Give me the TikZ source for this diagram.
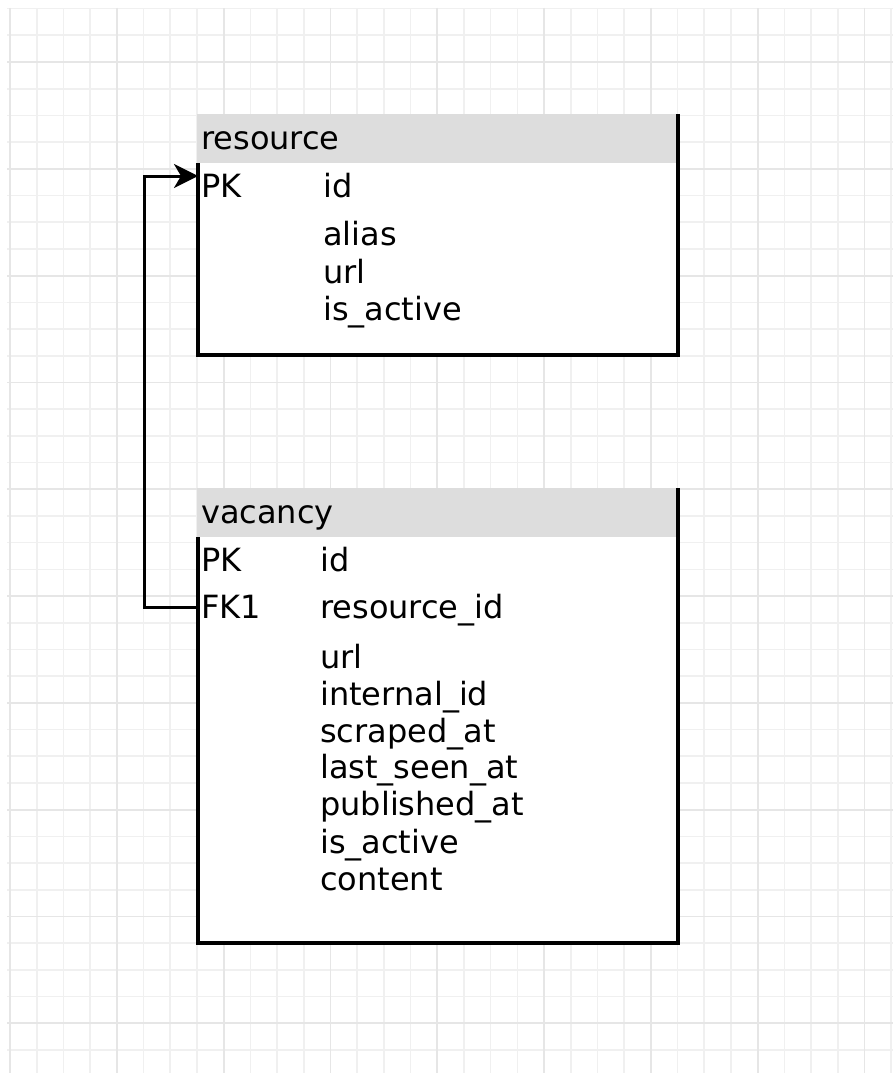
\documentclass[tikz,border=0pt]{standalone}
\usepackage{fontspec}
\setmainfont{DejaVu Sans}
\usepackage{tikz}
\usetikzlibrary{arrows.meta}
\definecolor{ERHead}{HTML}{DDDDDD}
\definecolor{ERGridMinor}{HTML}{F0F0F0}
\definecolor{ERGridMajor}{HTML}{E6E6E6}

\begin{document}
\begin{tikzpicture}[x=1pt,y=-1pt,
    lab/.style={anchor=base west,inner sep=0pt,font=\fontsize{32}{38}\selectfont},
    key/.style={lab,inner xsep=3pt},
    tbl/.style={line width=3.2pt},
    fk/.style={line width=3pt,-{Stealth[length=24pt,width=24pt,inset=7pt]}}]
    \useasboundingbox (0,0) rectangle (893,1073);
    \begin{scope}
      \clip (7,8) rectangle (893,1073);
      \foreach \i in {0,...,33}
        \draw[ERGridMinor,line width=1.6pt] ({10+26.7*\i},8) -- ({10+26.7*\i},1073);
      \foreach \i in {0,...,39}
        \draw[ERGridMinor,line width=1.6pt] (7,{8.6+26.7*\i}) -- (893,{8.6+26.7*\i});
      \foreach \i in {0,4,...,32}
        \draw[ERGridMajor,line width=1.8pt] ({10+26.7*\i},8) -- ({10+26.7*\i},1073);
      \foreach \i in {2,6,...,38}
        \draw[ERGridMajor,line width=1.8pt] (7,{8.6+26.7*\i}) -- (893,{8.6+26.7*\i});
    \end{scope}
    \fill[white] (197,114) rectangle (678,355);
    \fill[ERHead] (197,114) rectangle (678,163);
    \draw[tbl] (198,163) -- (198,355) -- (678,355) -- (678,114);
    \node[lab] (res-title) at (201,149) {resource};
    \node[key] (res-pk) at (198,197) {PK};
    \node[lab] (res-id) at (323,197) {id};
    \foreach \y/\f [count=\i] in {245/alias,283/url,320/is\_active}
      \node[lab] (res-f\i) at (323,\y) {\f};
    \fill[white] (197,488) rectangle (678,943);
    \fill[ERHead] (197,488) rectangle (678,537);
    \draw[tbl] (198,537) -- (198,943) -- (678,943) -- (678,488);
    \node[lab] (vac-title) at (201,523) {vacancy};
    \node[key] (vac-pk) at (198,571) {PK};
    \node[lab] (vac-id) at (320,571) {id};
    \node[key] (vac-fk) at (198,618) {FK1};
    \node[lab] (vac-rid) at (320,618) {resource\_id};
    \foreach \y/\f [count=\i] in {668/url,705/internal\_id,742/scraped\_at,778/last\_seen\_at,815/published\_at,853/is\_active,890/content}
      \node[lab] (vac-f\i) at (320,\y) {\f};
    \draw[fk] ([yshift=11pt]vac-fk.base west) -- ++(-54,0) |- ([yshift=21pt]res-pk.base west);
\end{tikzpicture}
\end{document}
